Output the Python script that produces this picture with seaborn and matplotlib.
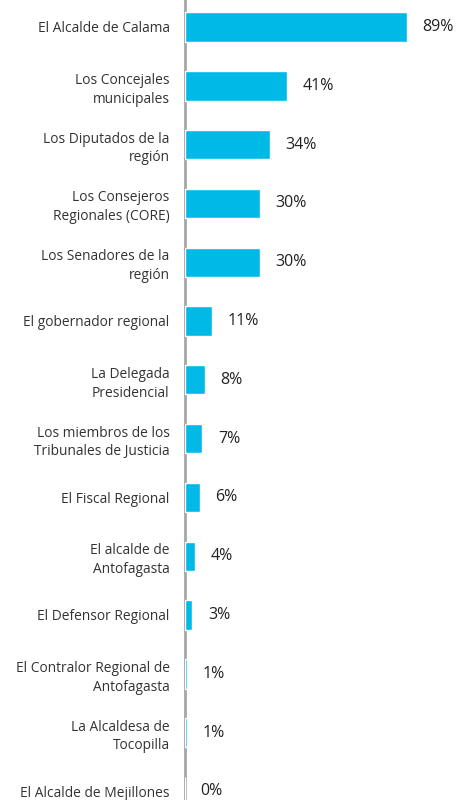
import matplotlib
matplotlib.use("Agg")
import matplotlib.pyplot as plt
import seaborn as sns
import pandas as pd

# ================== Data ==================
categories = [
    "El Alcalde de Calama",
    "Los Concejales\nmunicipales",
    "Los Diputados de la\nregión",
    "Los Consejeros\nRegionales (CORE)",
    "Los Senadores de la\nregión",
    "El gobernador regional",
    "La Delegada\nPresidencial",
    "Los miembros de los\nTribunales de Justicia",
    "El Fiscal Regional",
    "El alcalde de\nAntofagasta",
    "El Defensor Regional",
    "El Contralor Regional de\nAntofagasta",
    "La Alcaldesa de\nTocopilla",
    "El Alcalde de Mejillones",
]
values = [89, 41, 34, 30, 30, 11, 8, 7, 6, 4, 3, 1, 1, 0]

df = pd.DataFrame({"cat": categories, "val": values})

# ================== Plot ==================
sns.set_style("white")
plt.rcParams['font.family'] = ['Open Sans', 'DejaVu Sans']

fig = plt.figure(figsize=(4.58, 8), dpi=100)
# axes from the vertical line to the right edge, full height
ax = fig.add_axes([185 / 458, 0, 273 / 458, 1])

sns.barplot(data=df, x="val", y="cat", orient="h", color="#00B9E7",
            width=0.5, saturation=1, ax=ax)
for p in ax.patches:
    p.set_zorder(3)

step = 58.8  # pixels between rows
ax.set_xlim(0, 273 / 2.49)
ax.set_ylim((800 - 27) / step, -27 / step)

for i, v in enumerate(values):
    ax.text(v + 6.2, i, f"{v}%", va="center", ha="left",
            fontsize=11.5, color="#222222")

ax.set_xlabel("")
ax.set_ylabel("")
ax.set_xticks([])
ax.tick_params(axis="y", length=0, pad=11)
for lab in ax.get_yticklabels():
    lab.set_fontsize(9.9)
    lab.set_color("#333333")
    lab.set_horizontalalignment("right")
    lab.set_multialignment("right")
    lab.set_linespacing(1.35)

for s in ["top", "right", "bottom"]:
    ax.spines[s].set_visible(False)
ax.spines["left"].set_color("#A6A6A6")
ax.spines["left"].set_linewidth(2)
ax.spines["left"].set_zorder(2)

fig.savefig("out.png", dpi=100)
